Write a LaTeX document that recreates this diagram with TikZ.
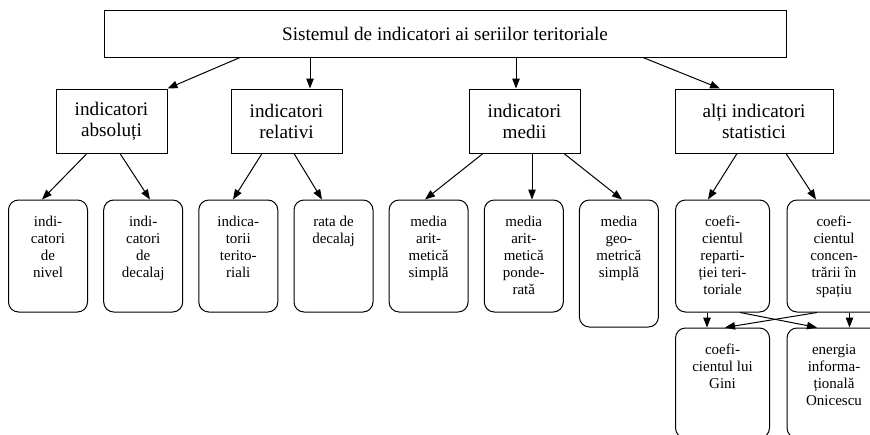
\documentclass[tikz,border=0pt]{standalone}
\usepackage{fontspec}
\setmainfont{Liberation Serif}
\usetikzlibrary{arrows.meta}
\begin{document}
\begin{tikzpicture}[x=1pt,y=-1pt,
  sq/.style={draw, rectangle, line width=1pt, inner sep=0pt, align=center,
    font=\fontsize{19.2}{21}\selectfont},
  rbox/.style={draw, rectangle, rounded corners=10pt, line width=1pt, inner sep=0pt},
  smallw/.style={minimum width=79pt, minimum height=112pt},
  widew/.style={minimum width=94pt, minimum height=112pt},
  txt/.style={anchor=north, yshift=-16.5pt, inner sep=0pt, align=center,
    font=\fontsize{15}{17}\selectfont},
  arr/.style={-{Triangle[length=10pt,width=7.5pt]}, line width=1pt}]
\useasboundingbox (0,0) rectangle (870,434);
\clip (0,0) rectangle (870,434);

% top
\node[sq, minimum width=682pt, minimum height=47pt] (T) at (445,33.5)
  {Sistemul de indicatori ai seriilor teritoriale};

% level 2
\node[sq, minimum width=111pt, minimum height=64pt] (B1) at (111.5,121) {indicatori\\absoluți};
\node[sq, minimum width=111pt, minimum height=64pt] (B2) at (286.5,121) {indicatori\\relativi};
\node[sq, minimum width=111pt, minimum height=64pt] (B3) at (524.5,121) {indicatori\\medii};
\node[sq, minimum width=158pt, minimum height=64pt] (B4) at (754,121) {alți indicatori\\statistici};

% level 3
\node[rbox, smallw, label={[txt]north:indi-\\catori\\de\\nivel}] (L1) at (48,256) {};
\node[rbox, smallw, label={[txt]north:indi-\\catori\\de\\decalaj}] (L2) at (143.2,256) {};
\node[rbox, smallw, label={[txt]north:indica-\\torii\\terito-\\riali}] (L3) at (238.3,256) {};
\node[rbox, smallw, label={[txt]north:rata de\\decalaj}] (L4) at (333.5,256) {};
\node[rbox, smallw, label={[txt]north:media\\arit-\\metică\\simplă}] (L5) at (428.6,256) {};
\node[rbox, smallw, label={[txt]north:media\\arit-\\metică\\ponde-\\rată}] (L6) at (523.8,256) {};
\node[rbox, minimum width=79pt, minimum height=127pt, label={[txt]north:media\\geo-\\metrică\\simplă}] (L7) at (618.9,263.5) {};
\node[rbox, widew, label={[txt]north:coefi-\\cientul\\reparti-\\ției teri-\\toriale}] (L8) at (722.5,256) {};
\node[rbox, widew, label={[txt]north:coefi-\\cientul\\concen-\\trării în\\spațiu}] (L9) at (834,256) {};
\node[rbox, minimum width=94pt, minimum height=110pt, label={[txt]north:coefi-\\cientul lui\\Gini}] (L10) at (722.5,383) {};
\node[rbox, minimum width=94pt, minimum height=110pt, label={[txt]north:energia\\informa-\\țională\\Onicescu}] (L11) at (834,383) {};

% edges top -> level 2
\draw[arr] ([xshift=-205pt]T.south) -- (B1.north east);
\draw[arr] ([xshift=-135pt]T.south) -- ([xshift=23.5pt]B2.north);
\draw[arr] ([xshift=71pt]T.south) -- ([xshift=-8.5pt]B3.north);
\draw[arr] ([xshift=198pt]T.south) -- ([xshift=-34pt]B4.north);

% level 2 -> level 3
\draw[arr] ([xshift=-24.5pt]B1.south) -- ([xshift=-6pt]L1.north);
\draw[arr] ([xshift=8.5pt]B1.south) -- ([xshift=6.8pt]L2.north);
\draw[arr] ([xshift=-24.5pt]B2.south) -- ([xshift=-5.3pt]L3.north);
\draw[arr] ([xshift=7.5pt]B2.south) -- ([xshift=-11.5pt]L4.north);
\draw[arr] ([xshift=-41.5pt]B3.south) -- ([xshift=-3.6pt]L5.north);
\draw[arr] ([xshift=7.5pt]B3.south) -- ([xshift=8.2pt]L6.north);
\draw[arr] ([xshift=39.5pt]B3.south) -- ([xshift=3.1pt]L7.north);
\draw[arr] ([xshift=-17pt]B4.south) -- ([xshift=-14.5pt]L8.north);
\draw[arr] ([xshift=32pt]B4.south) -- ([xshift=-18pt]L9.north);

% level 3 -> level 4
\draw[arr] ([xshift=-15.5pt]L8.south) -- ([xshift=-15.5pt]L10.north);
\draw[arr] ([xshift=15.5pt]L9.south) -- ([xshift=15.5pt]L11.north);
\draw[arr] ([xshift=17.5pt]L8.south) -- ([xshift=-17pt]L11.north);
\draw[arr] ([xshift=-17pt]L9.south) -- ([xshift=2.5pt]L10.north);
\end{tikzpicture}
\end{document}
